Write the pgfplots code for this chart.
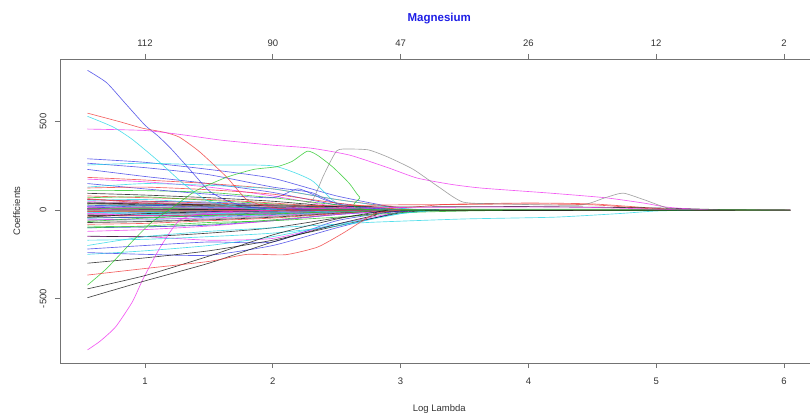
\documentclass[border=0pt]{standalone}
\usepackage{pgfplots}
\pgfplotsset{compat=1.18}
\usepackage{fontspec}
\setmainfont{Liberation Sans}
\definecolor{rblack}{RGB}{20,20,20}
\definecolor{rred}{RGB}{240,60,60}
\definecolor{rgreen}{RGB}{40,200,40}
\definecolor{rblue}{RGB}{60,60,230}
\definecolor{rcyan}{RGB}{40,215,230}
\definecolor{rmag}{RGB}{240,50,240}
\definecolor{rgray}{RGB}{140,140,140}
\definecolor{titleblue}{RGB}{30,30,230}
\begin{document}
\begin{tikzpicture}
\pgfplotsset{
  common/.style={
    at={(0pt,0pt)}, anchor=south west, scale only axis,
    width=758.5pt, height=304pt,
    xmin=0.335, xmax=6.27, ymin=-864, ymax=854,
    tick align=outside, major tick length=5pt,
    axis line style={black!55, line width=0.6pt},
    tick style={black!55, line width=0.6pt},
    ticklabel style={font=\fontsize{9.5}{11}\selectfont, text=black!80},
    /pgf/number format/assume math mode=true,
  }
}
\begin{axis}[common,
  xtick={1,2,3,4,5,6}, ytick={-500,0,500},
  xtick pos=bottom, ytick pos=left,
  xticklabel shift=6pt,
  yticklabel style={rotate=90, anchor=south},
  yticklabel shift=5pt,
  xlabel={Log Lambda}, ylabel={Coefficients},
  label style={font=\fontsize{9.5}{11}\selectfont, text=black!80},
  xlabel style={at={(axis description cs:0.5,0)}, anchor=center, yshift=-46pt},
  ylabel style={at={(axis description cs:-0.057,0.5)}, anchor=center},
  title={Magnesium},
  title style={at={(axis description cs:0.5,1)}, anchor=center, yshift=34pt,
    font=\fontsize{11.5}{13}\selectfont\bfseries, text=titleblue},
  no markers,
  every axis plot/.append style={line width=0.65pt, opacity=0.8, smooth, tension=0.35},
  cycle list={{rblack},{rred},{rgreen},{rblue},{rcyan},{rmag},{rgray}},
]
% bundle near zero
\addplot coordinates {(0.55,95)(1.0,85)(1.5,70)(2.0,50)(2.5,20)(3.0,0)(6.05,0)};
\addplot coordinates {(0.55,80)(1.0,70)(1.5,60)(2.0,40)(2.5,15)(3.0,0)(3.3,0)};
\addplot coordinates {(0.55,70)(1.0,75)(1.5,55)(2.0,35)(2.5,10)(3.0,0)(3.3,0)};
\addplot coordinates {(0.55,60)(1.0,50)(1.5,45)(2.0,30)(2.5,12)(3.0,0)(3.3,0)};
\addplot coordinates {(0.55,55)(1.0,60)(1.5,40)(2.0,25)(2.5,8)(3.0,0)(3.3,0)};
\addplot coordinates {(0.55,48)(1.0,40)(1.5,35)(2.0,20)(2.5,5)(3.0,0)(3.3,0)};
\addplot coordinates {(0.55,42)(1.0,45)(1.5,30)(2.0,22)(2.5,8)(3.0,0)(6.05,0)};
\addplot coordinates {(0.55,38)(1.0,30)(1.5,25)(2.0,15)(2.5,5)(3.0,0)(3.3,0)};
\addplot coordinates {(0.55,35)(1.0,35)(1.5,20)(2.0,10)(2.5,3)(3.0,0)(3.3,0)};
\addplot coordinates {(0.55,30)(1.0,25)(1.5,22)(2.0,12)(2.5,4)(3.0,0)(3.3,0)};
\addplot coordinates {(0.55,25)(1.0,28)(1.5,15)(2.0,8)(2.5,2)(3.0,0)(3.3,0)};
\addplot coordinates {(0.55,20)(1.0,18)(1.5,12)(2.0,6)(2.5,2)(3.0,0)(3.3,0)};
\addplot coordinates {(0.55,15)(1.0,15)(1.5,10)(2.0,5)(2.5,1)(3.0,0)(6.05,0)};
\addplot coordinates {(0.55,10)(1.0,12)(1.5,8)(2.0,3)(2.5,0)(3.0,0)(3.3,0)};
\addplot coordinates {(0.55,5)(1.0,6)(1.5,4)(2.0,2)(2.5,0)(3.0,0)(3.3,0)};
\addplot coordinates {(0.55,0)(1.0,-3)(1.5,-2)(2.0,-1)(2.5,0)(3.0,0)(3.3,0)};
\addplot coordinates {(0.55,-5)(1.0,-8)(1.5,-6)(2.0,-3)(2.5,0)(3.0,0)(3.3,0)};
\addplot coordinates {(0.55,-10)(1.0,-12)(1.5,-8)(2.0,-5)(2.5,-2)(3.0,0)(3.3,0)};
\addplot coordinates {(0.55,-15)(1.0,-14)(1.5,-12)(2.0,-8)(2.5,-3)(3.0,0)(6.05,0)};
\addplot coordinates {(0.55,-20)(1.0,-22)(1.5,-15)(2.0,-10)(2.5,-4)(3.0,0)(3.3,0)};
\addplot coordinates {(0.55,-25)(1.0,-20)(1.5,-18)(2.0,-12)(2.5,-5)(3.0,0)(3.3,0)};
\addplot coordinates {(0.55,-30)(1.0,-32)(1.5,-25)(2.0,-15)(2.5,-6)(3.0,0)(3.3,0)};
\addplot coordinates {(0.55,-35)(1.0,-30)(1.5,-28)(2.0,-18)(2.5,-8)(3.0,0)(3.3,0)};
\addplot coordinates {(0.55,-40)(1.0,-42)(1.5,-30)(2.0,-20)(2.5,-10)(3.0,0)(3.3,0)};
\addplot coordinates {(0.55,-45)(1.0,-40)(1.5,-35)(2.0,-25)(2.5,-12)(3.0,0)(6.05,0)};
\addplot coordinates {(0.55,-50)(1.0,-55)(1.5,-40)(2.0,-28)(2.5,-12)(3.0,0)(3.3,0)};
\addplot coordinates {(0.55,-55)(1.0,-50)(1.5,-45)(2.0,-30)(2.5,-15)(3.0,0)(3.3,0)};
\addplot coordinates {(0.55,-60)(1.0,-62)(1.5,-50)(2.0,-35)(2.5,-15)(3.0,0)(3.3,0)};
\addplot coordinates {(0.55,-70)(1.0,-65)(1.5,-55)(2.0,-40)(2.5,-18)(3.0,0)(3.3,0)};
\addplot coordinates {(0.55,-80)(1.0,-75)(1.5,-60)(2.0,-45)(2.5,-20)(3.0,0)(3.3,0)};
\addplot coordinates {(0.55,-90)(1.0,-95)(1.5,-80)(2.0,-55)(2.5,-25)(3.0,0)(6.05,0)};
\addplot coordinates {(0.55,-100)(1.0,-95)(1.5,-85)(2.0,-60)(2.5,-25)(3.0,-5)(3.3,0)};
\addplot coordinates {(0.55,20)(1.0,30)(1.5,35)(2.0,25)(2.5,10)(3.0,0)(3.3,0)};
\addplot coordinates {(0.55,-20)(1.0,-30)(1.5,-25)(2.0,-18)(2.5,-6)(3.0,0)(3.3,0)};
\addplot coordinates {(0.55,40)(1.0,20)(1.5,10)(2.0,5)(2.5,0)(3.0,0)(3.3,0)};
\addplot coordinates {(0.55,-40)(1.0,-20)(1.5,-10)(2.0,-5)(2.5,0)(3.0,0)(3.3,0)};
\addplot coordinates {(0.55,65)(1.0,40)(1.5,30)(2.0,25)(2.5,10)(3.0,0)(6.05,0)};
\addplot coordinates {(0.55,-65)(1.0,-45)(1.5,-30)(2.0,-22)(2.5,-8)(3.0,0)(3.3,0)};
\addplot coordinates {(0.55,10)(1.0,25)(1.5,20)(2.0,12)(2.5,5)(3.0,0)(3.3,0)};
\addplot coordinates {(0.55,-10)(1.0,-25)(1.5,-20)(2.0,-15)(2.5,-5)(3.0,0)(3.3,0)};
\addplot coordinates {(0.55,3)(1.0,2)(1.5,1)(2.0,1)(2.5,0)(3.0,0)(6.05,0)};
\addplot coordinates {(0.55,-3)(1.0,-2)(1.5,-2)(2.0,-1)(2.5,0)(3.0,0)(3.3,0)};
\addplot coordinates {(0.55,8)(1.0,5)(1.5,3)(2.0,2)(2.5,1)(3.0,0)(3.3,0)};
\addplot coordinates {(0.55,-8)(1.0,-6)(1.5,-4)(2.0,-2)(2.5,-1)(3.0,0)(6.05,0)};
% mid-level lines
\addplot[rblue] coordinates {(0.55,290)(1.0,270)(1.5,230)(2.0,180)(2.5,80)(3.0,10)(3.3,0)};
\addplot[rblue] coordinates {(0.55,265)(1.0,240)(1.5,200)(2.0,130)(2.3,100)(2.5,40)(3.0,0)};
\addplot[rcyan] coordinates {(0.55,255)(1.0,265)(1.5,255)(2.0,250)(2.3,170)(2.5,40)(2.8,5)(3.0,0)};
\addplot[rblue] coordinates {(0.55,230)(1.0,190)(1.5,150)(2.0,100)(2.5,30)(3.0,0)};
\addplot[rmag] coordinates {(0.55,175)(1.0,160)(1.5,130)(2.0,80)(2.5,20)(3.0,0)};
\addplot[rgreen] coordinates {(0.55,110)(1.0,110)(1.5,100)(2.0,70)(2.5,30)(3.0,5)(3.3,0)};
\addplot[rred] coordinates {(0.55,185)(1.0,170)(1.5,150)(2.0,120)(2.5,60)(3.0,15)(3.3,30)(3.5,35)(4.0,40)(4.5,35)(5.0,10)(5.3,0)(6.05,0)};
\addplot[rblue] coordinates {(0.55,150)(1.0,120)(1.5,90)(2.0,70)(2.2,120)(2.4,60)(2.6,20)(3.0,0)};
\addplot[rcyan] coordinates {(0.55,130)(1.0,150)(1.5,140)(2.0,120)(2.5,60)(3.0,10)(3.3,0)};
\addplot[rred] coordinates {(0.55,125)(1.0,130)(1.5,115)(2.0,90)(2.5,40)(3.0,5)(3.3,0)};
\addplot[rred] coordinates {(0.55,60)(1.0,50)(1.5,40)(2.0,30)(2.5,25)(3.0,30)(3.5,32)(4.0,35)(4.5,30)(4.9,10)(5.2,0)};
\addplot[rblack] coordinates {(0.55,40)(1.0,35)(1.5,30)(2.0,25)(2.5,20)(3.0,18)(4.0,20)(5.0,12)(5.5,3)(6.05,0)};
\addplot[rgreen] coordinates {(0.55,10)(1.0,10)(1.5,8)(2.0,6)(2.5,5)(3.0,4)(4.0,5)(5.0,4)(5.7,2)(6.05,0)};
\addplot[rmag] coordinates {(0.55,20)(1.0,15)(1.5,10)(2.0,8)(2.5,10)(3.0,15)(4.0,18)(4.5,15)(5.0,5)(5.4,0)};
% negative mid-level lines
\addplot[rmag] coordinates {(0.55,-150)(1.0,-150)(1.5,-170)(2.0,-160)(2.5,-80)(3.0,-10)(3.3,0)};
\addplot[rblack] coordinates {(0.55,-147)(1.0,-150)(1.5,-130)(2.0,-100)(2.5,-45)(3.0,-5)(3.3,0)};
\addplot[rblue] coordinates {(0.55,-220)(1.0,-200)(1.5,-180)(2.0,-180)(2.5,-60)(3.0,-5)(3.3,0)};
\addplot[rcyan] coordinates {(0.55,-250)(1.0,-230)(1.5,-200)(2.0,-150)(2.5,-80)(3.0,-20)(3.3,0)};
\addplot[rblue] coordinates {(0.55,-240)(1.0,-250)(1.5,-255)(2.0,-200)(2.5,-100)(3.0,-10)(3.3,0)};
\addplot[rblack] coordinates {(0.55,-300)(1.0,-270)(1.5,-230)(2.0,-170)(2.5,-90)(3.0,-15)(3.3,0)};
\addplot[rcyan] coordinates {(0.55,-200)(1.0,-150)(1.5,-120)(2.0,-100)(2.5,-80)(2.8,-68)(3.5,-50)(4.2,-40)(4.7,-20)(5.0,-5)(5.3,0)};
\addplot[rmag] coordinates {(0.55,-120)(1.0,-110)(1.5,-90)(2.0,-60)(2.5,-25)(3.0,0)};
\addplot[rgreen] coordinates {(0.55,-100)(1.0,-90)(1.5,-70)(2.0,-60)(2.5,-40)(3.0,-15)(3.5,-5)(4.0,0)};
\addplot[rcyan] coordinates {(0.55,-170)(1.0,-165)(1.5,-150)(2.0,-130)(2.5,-90)(3.0,-20)(3.3,0)};
% prominent lines
\addplot[rblue] coordinates {(0.55,790)(0.7,720)(0.85,600)(1.0,480)(1.1,420)(1.2,350)(1.35,230)(1.5,110)(1.65,50)(1.8,20)(2.0,5)(2.3,0)};
\addplot[rred] coordinates {(0.55,548)(0.8,500)(0.98,463)(1.15,440)(1.27,412)(1.43,328)(1.64,186)(1.8,57)(2.0,15)(2.2,0)};
\addplot[rmag] coordinates {(0.55,458)(1.0,450)(1.3,425)(1.6,395)(2.0,367)(2.3,350)(2.6,311)(2.9,240)(3.13,181)(3.4,145)(3.64,124)(4.17,96)(4.6,70)(4.9,40)(5.08,17)(5.3,5)(5.5,0)(6.05,0)};
\addplot[rgray] coordinates {(0.55,10)(1.5,20)(2.0,25)(2.2,30)(2.31,56)(2.4,200)(2.5,335)(2.6,345)(2.75,340)(2.9,300)(3.1,230)(3.3,130)(3.49,45)(3.8,35)(4.4,28)(4.6,70)(4.74,96)(4.9,60)(5.13,5)(5.5,0)(6.05,0)};
\addplot[rgreen] coordinates {(0.55,-424)(0.7,-330)(0.91,-170)(1.05,-70)(1.22,17)(1.4,110)(1.64,186)(1.85,230)(2.03,245)(2.15,275)(2.27,333)(2.35,310)(2.47,243)(2.6,150)(2.68,73)(2.82,0)(6.05,0)};
\addplot[rmag] coordinates {(0.55,-790)(0.65,-740)(0.77,-660)(0.9,-520)(0.98,-396)(1.05,-300)(1.12,-209)(1.2,-120)(1.27,-57)(1.4,-25)(1.6,-10)(2.0,0)};
\addplot[rblack] coordinates {(0.55,-495)(1.0,-400)(1.5,-300)(2.0,-180)(2.5,-80)(2.8,-30)(3.0,-5)(6.05,0)};
\addplot[rblack] coordinates {(0.55,-445)(1.0,-370)(1.5,-260)(2.0,-140)(2.5,-50)(2.9,0)};
\addplot[rred] coordinates {(0.55,-367)(1.0,-330)(1.5,-290)(1.8,-250)(2.1,-252)(2.35,-209)(2.55,-130)(2.8,-20)(3.0,0)};
\addplot[rcyan] coordinates {(0.55,530)(0.75,470)(0.9,400)(1.1,280)(1.3,150)(1.5,50)(1.8,10)(2.1,0)};
\end{axis}
\begin{axis}[common,
  axis x line*=top, hide y axis,
  xtick={1,2,3,4,5,6}, xticklabels={112,90,47,26,12,2},
  xticklabel shift=4pt,
]
\end{axis}
\pgfresetboundingbox
\path[use as bounding box] (-60pt,-52pt) rectangle (750pt,363pt);
\end{tikzpicture}
\end{document}
